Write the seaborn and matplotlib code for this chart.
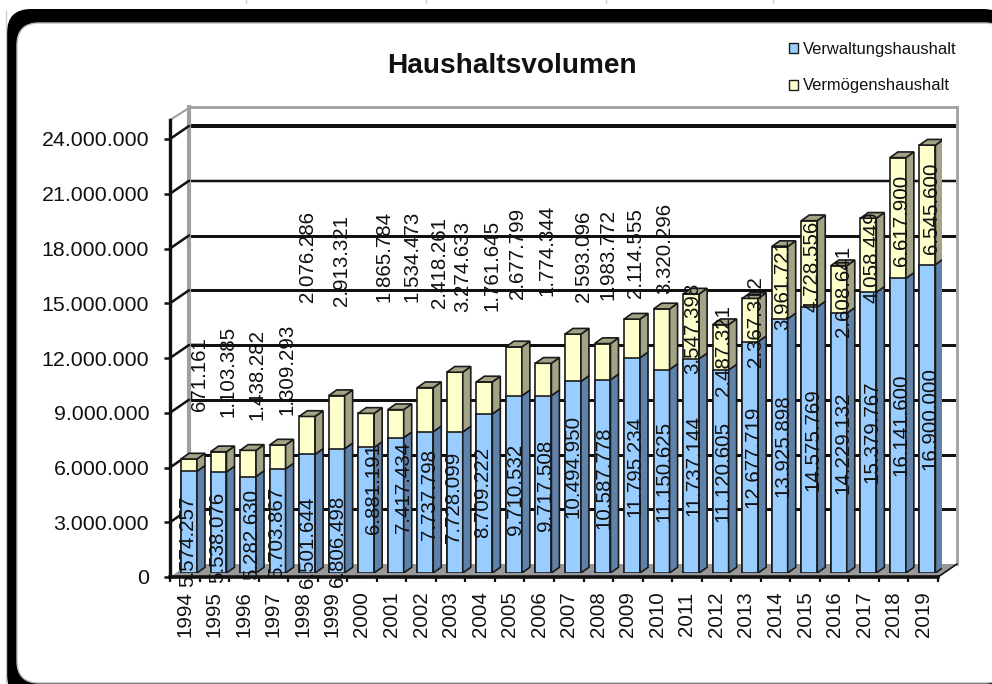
import matplotlib
matplotlib.use("Agg")
import matplotlib.pyplot as plt
import seaborn as sns
from matplotlib.patches import FancyBboxPatch, Patch, Polygon

years = [str(y) for y in range(1994, 2020)]
verwaltung = [5574257, 5538076, 5282630, 5703867, 6501644, 6806498, 6881191, 7417434,
              7737798, 7728099, 8709222, 9710532, 9717508, 10494950, 10587778, 11795234,
              11150625, 11737144, 11120605, 12677719, 13925898, 14575769, 14229132,
              15379767, 16141600, 16900000]
vermoegen = [671161, 1103385, 1438282, 1309293, 2076286, 2913321, 1865784, 1534473,
             2418261, 3274633, 1761645, 2677799, 1774344, 2593096, 1983772, 2114555,
             3320296, 3547398, 2487321, 2367312, 3961721, 4728556, 2608641, 4058449,
             6617900, 6545600]
y_ticks = [0, 3000000, 6000000, 9000000, 12000000, 15000000, 18000000, 21000000, 24000000]

# where the labels sit in the picture (pixels)
low_x = [188, 218, 252, 277, 308, 338, 373, 403, 429, 453, 483, 516, 545, 573, 604, 635,
         664, 694, 723, 753, 783, 813, 843, 872, 901, 930]
low_y = [541, 537, 534, 532, 542, 541, 489, 487, 494, 497, 492, 489, 485, 466, 478, 466,
         471, 466, 471, 457, 446, 440, 443, 432, 425, 419]
up_x = [200, 228, 257, 287, 307, 342, 384, 412, 440, 463, 492, 517, 547, 583, 608, 635,
        665, 693, 723, 755, 783, 812, 843, 872, 902, 932]
up_y = [374, 371, 375, 369, 257, 260, 256, 256, 262, 266, 265, 253, 250, 256, 254, 253,
        248, 328, 350, 322, 285, 266, 291, 257, 220, 208]
grid_px = [3, 3, 3, 3, 3, 3, 2.5, 4]

W, H = 992, 684
PX_PER_VAL = 18.25 / 1e6
STEP = 29.56
YMAX = 457 / PX_PER_VAL
BLUE, BLUE_SIDE = "#99CCFF", "#5F82AB"
YEL, YEL_SIDE = "#FFFFCC", "#A3A385"
EDGE = "#1a1a1a"

sns.set_theme(style="white")
plt.rcParams["font.family"] = ["Liberation Sans", "DejaVu Sans"]


def fmt(v):
    return f"{v:,}".replace(",", ".")


def add_ax(left, bottom, zorder):
    a = fig.add_axes([left / W, 1 - bottom / H, 768 / W, 457 / H], zorder=zorder)
    a.patch.set_alpha(0)
    a.set_xlim(-0.5, 25.5)
    a.set_ylim(0, YMAX)
    return a


fig = plt.figure(figsize=(W / 100, H / 100), dpi=100, facecolor="white")

# outer frame
deco = fig.add_axes([0, 0, 1, 1], zorder=0)
deco.set_xlim(0, W)
deco.set_ylim(H, 0)
deco.axis("off")
for x in [246, 426, 606, 773]:
    deco.plot([x, x], [0, 3], color="#cccccc", lw=1)
deco.plot([6, 6], [10, H], color="#cccccc", lw=1)
deco.add_patch(FancyBboxPatch((7, 9), 1000, 690, boxstyle="round,pad=0,rounding_size=24",
                              fc="black", ec="none"))
deco.add_patch(FancyBboxPatch((17, 23), 990, 660, boxstyle="round,pad=0,rounding_size=22",
                              fc="white", ec="#bbbbbb", lw=1))

# back wall with the gridlines
ax_back = add_ax(189, 564, 1)
ax_back.hlines(y_ticks[1:], -0.5, 25.45, colors="#111111",
               linewidths=[p * 0.72 for p in grid_px])
ax_back.set_xticks([])
ax_back.set_yticks([])
for side in ["left", "top", "right"]:
    ax_back.spines[side].set_visible(True)
    ax_back.spines[side].set_color("#a0a0a0")
    ax_back.spines[side].set_linewidth(2)
ax_back.spines["left"].set_linewidth(3)
ax_back.spines["bottom"].set_visible(False)

# front plane: floor, axes, stubs
ax = add_ax(170, 577, 2)
dx_wall = 19 / STEP
dy_wall = 13 / PX_PER_VAL
ax.add_patch(Polygon([(-0.5, 0), (-0.5 + dx_wall, dy_wall), (25.5 + dx_wall, dy_wall), (25.5, 0)],
                     fc="#999999", ec="none", clip_on=False))
for v in y_ticks[1:]:
    ax.plot([-0.5, -0.5 + dx_wall], [v, v + dy_wall], color="#111111", lw=1.8, clip_on=False)
ax.plot([25.5, 25.5 + dx_wall], [0, dy_wall], color="#111111", lw=1.2, clip_on=False)
ax.plot([-0.5, -0.5 + dx_wall], [YMAX, YMAX + 12 / PX_PER_VAL], color="#a0a0a0", lw=1.5, clip_on=False)
sns.despine(ax=ax, top=True, right=True)
ax.spines["left"].set_color("#111111")
ax.spines["left"].set_linewidth(2.4)
ax.spines["bottom"].set_color("#111111")
ax.spines["bottom"].set_linewidth(2.6)
ax.set_yticks(y_ticks, [fmt(v) for v in y_ticks])
ax.tick_params(axis="y", direction="out", length=4.5, width=1.8, color="#111111", left=True,
               pad=10.5, labelsize=15.4, labelcolor="#111111")
ax.set_xticks([i - 0.5 for i in range(27)], [""] * 27)
ax.set_xticks(range(26), years, minor=True)
ax.tick_params(axis="x", which="major", direction="out", length=3.5, width=1.6, color="#111111", bottom=True)
ax.tick_params(axis="x", which="minor", length=0, pad=10.5, labelsize=14.8, labelrotation=90,
               labelcolor="#111111")

# bars
ax_bar = add_ax(174.2, 573, 3)
totals = [a + b for a, b in zip(verwaltung, vermoegen)]
sns.barplot(x=years, y=totals, color=YEL, saturation=1, width=0.54, edgecolor=EDGE,
            linewidth=1.2, ax=ax_bar, errorbar=None)
sns.barplot(x=years, y=verwaltung, color=BLUE, saturation=1, width=0.54, edgecolor=EDGE,
            linewidth=1.2, ax=ax_bar, errorbar=None)
ax_bar.set_xlim(-0.5, 25.5)
ax_bar.set_ylim(0, YMAX)
ax_bar.axis("off")
dx = 8 / STEP
dy = 5.7 / PX_PER_VAL
for i in range(len(years)):
    x1 = ax_bar.patches[i].get_x() + ax_bar.patches[i].get_width()
    x0 = ax_bar.patches[i].get_x()
    low, tot = verwaltung[i], totals[i]
    ax_bar.add_patch(Polygon([(x1, 0), (x1 + dx, dy), (x1 + dx, low + dy), (x1, low)],
                             fc=BLUE_SIDE, ec=EDGE, lw=1.2))
    ax_bar.add_patch(Polygon([(x1, low), (x1 + dx, low + dy), (x1 + dx, tot + dy), (x1, tot)],
                             fc=YEL_SIDE, ec=EDGE, lw=1.2))
    ax_bar.add_patch(Polygon([(x0, tot), (x0 + dx, tot + dy), (x1 + dx, tot + dy), (x1, tot)],
                             fc=YEL_SIDE, ec=EDGE, lw=1.2))

# data labels on top of everything
top = fig.add_axes([0, 0, 1, 1], zorder=4)
top.patch.set_alpha(0)
top.set_xlim(0, W)
top.set_ylim(H, 0)
top.axis("off")
for v, x, y in zip(verwaltung, low_x, low_y):
    top.text(x, y, fmt(v), rotation=90, ha="center", va="center", fontsize=14.8, color="#111111")
for v, x, y in zip(vermoegen, up_x, up_y):
    top.text(x, y, fmt(v), rotation=90, ha="center", va="center", fontsize=14.8, color="#111111")

fig.text(512 / W, 1 - 66 / H, "Haushaltsvolumen", ha="center", va="center",
         fontsize=20.2, fontweight="bold", color="#111111")
handles = [Patch(fc=BLUE, ec=EDGE, lw=1, label="Verwaltungshaushalt"),
           Patch(fc=YEL, ec=EDGE, lw=1, label="Vermögenshaushalt")]
leg = fig.legend(handles=handles, loc="upper left", bbox_to_anchor=(789 / W, 1 - 42 / H),
                 frameon=False, fontsize=11.9, labelspacing=1.3, handlelength=0.55,
                 handleheight=0.55, handletextpad=0.3, borderpad=0, borderaxespad=0)
for t in leg.get_texts():
    t.set_color("#111111")

fig.savefig("out.png", dpi=100)
